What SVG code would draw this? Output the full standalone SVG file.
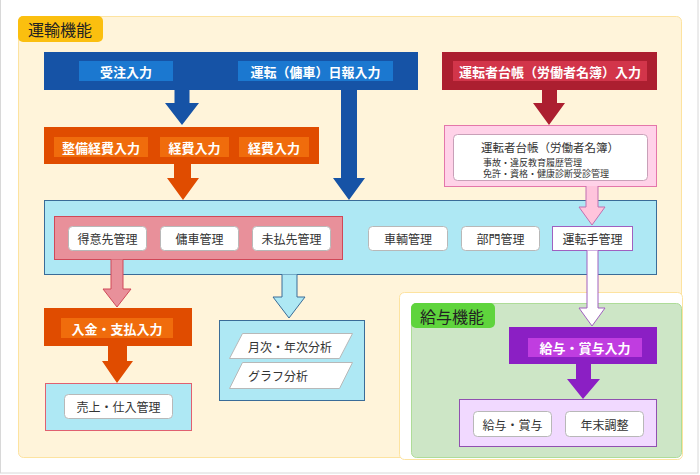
<svg xmlns="http://www.w3.org/2000/svg" width="700" height="475" viewBox="0 0 700 475">
<style>
text{font-family:"Noto Sans CJK JP","Noto Sans",sans-serif;}
.wl{fill:#fff;font-size:13px;font-weight:bold;text-anchor:middle;dominant-baseline:central;}
.nt{fill:#333;font-size:12px;text-anchor:middle;dominant-baseline:central;}
.node{fill:#fff;stroke:#b8b8b8;stroke-width:1;}
.tab{fill:#222;font-size:16px;dominant-baseline:central;}
</style>
<rect x="0.5" y="-2" width="697.5" height="475" fill="#fff" stroke="#d8d8d8"/>
<!-- panels -->
<rect x="18.5" y="16.5" width="663" height="441" rx="5" fill="#fff4da" stroke="#fde3a0"/>
<rect x="399.5" y="292.5" width="283" height="167" rx="5" fill="#fff" stroke="#fde3a0"/>
<rect x="411.5" y="303.5" width="270" height="154" rx="5" fill="#cde6c6" stroke="#aedc98"/>
<g id="tab-unyu"><rect x="18" y="16" width="85" height="26" rx="5" fill="#fbbf0f"/><text class="tab" x="28" y="29">運輸機能</text></g>
<g id="tab-kyuyo"><rect x="411" y="303" width="84" height="25" rx="5" fill="#5fd43d"/><text class="tab" x="420" y="316">給与機能</text></g>

<g id="blue-input">
<rect x="44" y="52" width="374" height="38" fill="#1653a6"/>
<rect x="79" y="61" width="94" height="20" fill="#1b78d0"/><text class="wl" x="126" y="71">受注入力</text>
<rect x="238" y="61" width="155" height="20" fill="#1b78d0"/><text class="wl" x="315.5" y="71">運転（傭車）日報入力</text>
</g>
<g id="orange-input">
<rect x="44" y="127" width="275" height="37" fill="#e04c00"/>
<rect x="54" y="137" width="94" height="20" fill="#f06c0c"/><text class="wl" x="101" y="147">整備経費入力</text>
<rect x="160" y="137" width="69" height="20" fill="#f06c0c"/><text class="wl" x="194.5" y="147">経費入力</text>
<rect x="239" y="137" width="70" height="20" fill="#f06c0c"/><text class="wl" x="274" y="147">経費入力</text>
</g>
<g id="red-input">
<rect x="442" y="52" width="215" height="38" fill="#ac1f30"/>
<rect x="453" y="61" width="194" height="20" fill="#d2354a"/><text class="wl" x="550" y="71">運転者台帳（労働者名簿）入力</text>
</g>
<g id="driver-ledger">
<rect x="444.5" y="125.5" width="212" height="61" fill="#ffd2e8" stroke="#e476aa"/>
<rect x="453.5" y="134.5" width="194" height="46" rx="4" fill="#fff" stroke="#c8a0b8"/>
<text x="550" y="146.5" style="fill:#333;font-size:11.5px;text-anchor:middle;dominant-baseline:central">運転者台帳（労働者名簿）</text>
<text x="483" y="162" style="fill:#333;font-size:9px;dominant-baseline:central">事故・違反教育履歴管理</text>
<text x="483" y="173.5" style="fill:#333;font-size:9px;dominant-baseline:central">免許・資格・健康診断受診管理</text>
</g>
<g id="master">
<rect x="44.5" y="200.5" width="612" height="74" fill="#aee8f4" stroke="#3a6c98"/>
<rect x="54.5" y="216.5" width="288" height="43" fill="#e8909a" stroke="#d04858"/>
</g>
<g id="n-tokui"><rect class="node" x="68.5" y="226.5" width="78" height="24" rx="4"/><text class="nt" x="107.5" y="238.5">得意先管理</text></g>
<g id="n-yosha"><rect class="node" x="160.5" y="226.5" width="78" height="24" rx="4"/><text class="nt" x="199.5" y="238.5">傭車管理</text></g>
<g id="n-mibarai"><rect class="node" x="252.5" y="226.5" width="78" height="24" rx="4"/><text class="nt" x="291.5" y="238.5">未払先管理</text></g>
<g id="n-sharyo"><rect class="node" x="368.5" y="226.5" width="79" height="24" rx="4"/><text class="nt" x="408" y="238.5">車輌管理</text></g>
<g id="n-bumon"><rect class="node" x="461.5" y="226.5" width="78" height="24" rx="4"/><text class="nt" x="500.5" y="238.5">部門管理</text></g>
<g id="n-untenshu"><rect x="552.5" y="226.5" width="80" height="24" fill="#fff" stroke="#a060c0"/><text class="nt" x="592.5" y="238.5">運転手管理</text></g>

<g id="nyukin-input">
<rect x="44" y="308" width="148" height="38" fill="#e04c00"/>
<rect x="61" y="318" width="112" height="20" fill="#f06c0c"/><text class="wl" x="117" y="328">入金・支払入力</text>
</g>
<g id="uriage">
<rect x="45.5" y="383.5" width="146" height="47" fill="#aee8f4" stroke="#e06070"/>
<rect class="node" x="64.5" y="394.5" width="108" height="24" rx="4"/><text class="nt" x="118.5" y="406.5">売上・仕入管理</text>
</g>
<g id="analysis">
<rect x="219.5" y="320.5" width="145" height="80" fill="#aee8f4" stroke="#3a6c98"/>
<polygon points="242.5,333.5 352.5,333.5 339.5,358.5 229.5,358.5" fill="#fff" stroke="#b8b8b8"/>
<text x="248" y="346" style="fill:#333;font-size:12px;dominant-baseline:central">月次・年次分析</text>
<polygon points="242.5,362.5 352.5,362.5 339.5,388.5 229.5,388.5" fill="#fff" stroke="#b8b8b8"/>
<text x="248" y="375.5" style="fill:#333;font-size:12px;dominant-baseline:central">グラフ分析</text>
</g>
<g id="kyuyo-input">
<rect x="509" y="327" width="148" height="37" fill="#8b1fc4"/>
<rect x="528" y="338" width="114" height="19" fill="#c03de0"/><text class="wl" x="585" y="347.5">給与・賞与入力</text>
</g>
<g id="kyuyo-mgmt">
<rect x="459.5" y="399.5" width="197" height="47" fill="#f1d9ff" stroke="#9050b0"/>
<rect class="node" x="473.5" y="411.5" width="78" height="25" rx="4"/><text class="nt" x="512.5" y="424">給与・賞与</text>
<rect class="node" x="565.5" y="411.5" width="78" height="25" rx="4"/><text class="nt" x="604.5" y="424">年末調整</text>
</g>

<g id="connectors">
<path d="M174.5,89 L189.5,89 L189.5,103 L199,103 L182,125 L165,103 L174.5,103 Z" fill="#1653a6"/>
<path d="M341,89 L357,89 L357,178 L365,178 L349,200 L333,178 L341,178 Z" fill="#1653a6"/>
<path d="M174,163 L191,163 L191,178 L199,178 L183,200 L167,178 L174,178 Z" fill="#e04c00"/>
<path d="M542,89 L557,89 L557,103 L565,103 L549,125 L533,103 L542,103 Z" fill="#ac1f30"/>
<path d="M586,186 L586,207 L579,207 L592,225 L605,207 L598,207 L598,186" fill="#ffc4dc" stroke="#c070b0"/>
<path d="M587,250.5 L587,308 L579,308 L592,326 L605,308 L598,308 L598,250.5" fill="#fff" stroke="#a060c0"/>
<path d="M576,363 L591,363 L591,379 L600,379 L583,399 L567,379 L576,379 Z" fill="#8b1fc4"/>
<path d="M111,259.5 L111,289 L103,289 L117,307 L131,289 L123,289 L123,259.5" fill="#e8909a" stroke="#d04858"/>
<path d="M282,274.5 L282,297 L273,297 L289,318 L305,297 L297,297 L297,274.5" fill="#aee8f4" stroke="#3a6c98"/>
<path d="M108,345 L127,345 L127,361 L133,361 L117,383 L102,361 L108,361 Z" fill="#e04c00"/>
</g>
</svg>
